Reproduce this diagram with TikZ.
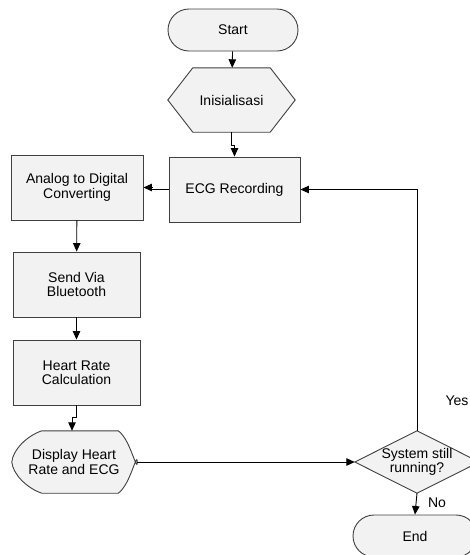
\documentclass[tikz,border=0pt]{standalone}
\usepackage{fontspec}
\setmainfont{Liberation Sans}
\usepackage{tikz}
\usetikzlibrary{arrows.meta,backgrounds}

\definecolor{boxfill}{HTML}{F2F2F2}
\definecolor{boxline}{HTML}{404040}

\tikzset{
	box/.style={draw=boxline,fill=boxfill,line width=0.9pt,minimum width=#1,minimum height=65pt,inner sep=0pt,align=center},
	box/.default=129pt,
	term/.style={draw=boxline,fill=boxfill,line width=0.9pt,rounded corners=21pt,minimum width=130pt,minimum height=42pt,inner sep=0pt},
	plain/.style={minimum width=#1,inner sep=0pt,align=center},
	outline/.style={draw=boxline,fill=boxfill,line width=0.9pt},
	arr/.style={line width=0.9pt,-{Triangle[length=8.5pt,width=7.5pt]}},
	lbl/.style={inner sep=0pt}
}

\begin{document}
\begin{tikzpicture}[x=1pt,y=-1pt,font=\fontsize{14}{14.5}\selectfont]
	\useasboundingbox (0,0) rectangle (470,555);
	\clip (0,0) rectangle (470,555);

	\node[term] (start) at (233,30) {Start};
	\node[plain=127pt,minimum height=64pt] (init) at (231.5,100) {Inisialisasi};
	\node[box=131pt] (ecg) at (234.5,189.5) {ECG Recording};
	\node[box=132pt] (adc) at (77,187.5) {Analog to Digital\\Converting};
	\node[box=127pt] (bt) at (76.5,284.5) {Send Via\\Bluetooth};
	\node[box=127pt] (hr) at (76.5,372.5) {Heart Rate\\Calculation};
	\node[plain=126pt,minimum height=62pt] (disp) at (74,462) {Display Heart\\Rate and ECG};
	\node[plain=124pt,minimum height=62pt] (dec) at (417,462) {System still\\running?};
	\node[term,minimum width=124pt] (end) at (415,536) {End};

	\begin{pgfonlayer}{background}
		\draw[outline] (init.west) -- ([xshift=25pt]init.north west) -- ([xshift=-25pt]init.north east)
			-- (init.east) -- ([xshift=-25pt]init.south east) -- ([xshift=25pt]init.south west) -- cycle;
		\draw[outline] ([xshift=31pt]disp.north west) -- ([xshift=-19pt]disp.north east)
			.. controls ([xshift=-7pt,yshift=-8pt]disp.north east) and ([yshift=-12pt]disp.east) .. (disp.east)
			.. controls ([yshift=12pt]disp.east) and ([xshift=-7pt,yshift=8pt]disp.south east) .. ([xshift=-19pt]disp.south east)
			-- ([xshift=31pt]disp.south west)
			.. controls ([xshift=16pt,yshift=5pt]disp.south west) and ([xshift=2pt,yshift=-12pt]disp.west) .. ([xshift=1pt]disp.west)
			.. controls ([xshift=2pt,yshift=12pt]disp.west) and ([xshift=16pt,yshift=-5pt]disp.north west) .. ([xshift=31pt]disp.north west);
		\draw[outline] (dec.west) -- (dec.north) -- (dec.east) -- (dec.south) -- cycle;
	\end{pgfonlayer}

	\draw[arr] (start) -- (init);
	\draw[arr] (init.south) -- ++(0,13) -| (ecg.north);
	\draw[arr] (ecg.west) -- ++(-17,0) |- (adc.east);
	\draw[arr] (adc) -- (bt);
	\draw[arr] (bt) -- (hr);
	\draw[arr] (hr.south) -- ++(0,12) -| ([xshift=-2pt]disp.north);
	\draw[arr] (disp.east) -- (dec.west);
	\draw[arr] (dec.north) |- (ecg.east);
	\draw[arr] (dec.south) -- (end.north);

	\node[lbl] (yes) at (457,401) {Yes};
	\node[lbl] (no) at (437,503) {No};
\end{tikzpicture}
\end{document}
